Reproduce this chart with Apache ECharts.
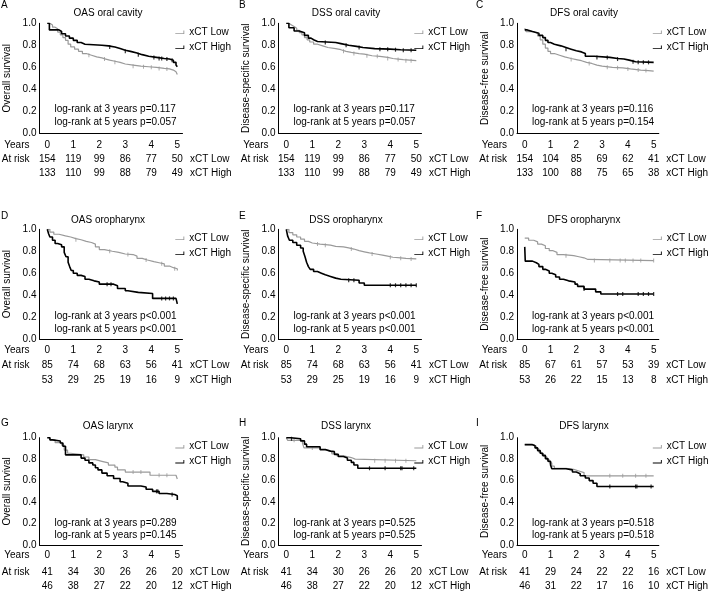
<!DOCTYPE html>
<html><head><meta charset="utf-8">
<script src="https://cdn.jsdelivr.net/npm/echarts@6/dist/echarts.min.js"></script>
<style>html,body{margin:0;padding:0;background:#fff}#c{width:709px;height:594px}</style>
</head><body><div id="c"></div>
<script>
const years = [0, 1, 2, 3, 4, 5];
const yTicks = [0, 0.2, 0.4, 0.6, 0.8, 1.0];
const panelLetters = ['A','B','C','D','E','F','G','H','I'];
const panelTitles = ['OAS oral cavity','DSS oral cavity','DFS oral cavity','OAS oropharynx','DSS oropharynx','DFS oropharynx','OAS larynx','DSS larynx','DFS larynx'];
const yNames = ['Overall survival','Disease-specific survival','Disease-free survival'];
const seriesNames = ['xCT Low','xCT High'];

// ---- A: OAS oral cavity
const A_low = [[0,1],[0.1,0.985],[0.2,0.965],[0.3,0.95],[0.4,0.92],[0.5,0.895],[0.6,0.87],[0.7,0.845],[0.8,0.81],[0.9,0.785],[1.05,0.765],[1.2,0.745],[1.35,0.725],[1.5,0.71],[1.7,0.695],[1.9,0.685],[2.1,0.675],[2.25,0.665],[2.4,0.655],[2.6,0.645],[2.8,0.63],[3.0,0.62],[3.3,0.61],[3.6,0.605],[3.9,0.6],[4.2,0.59],[4.5,0.585],[4.7,0.575],[4.85,0.56],[4.95,0.545],[5,0.535]];
const A_high = [[0,1],[0.08,0.94],[0.45,0.925],[0.55,0.905],[0.7,0.885],[0.85,0.865],[1.0,0.845],[1.15,0.825],[1.3,0.81],[1.45,0.8],[2.1,0.795],[2.35,0.785],[2.6,0.77],[2.8,0.755],[3.0,0.745],[3.2,0.73],[3.45,0.715],[3.65,0.7],[3.9,0.69],[4.2,0.68],[4.5,0.675],[4.7,0.665],[4.85,0.645],[4.95,0.62],[5,0.605]];
const A_censLow = [1.6,2.2,2.6,3.3,3.7,4.0,4.3,4.6];
const A_censHigh = [2.4,3.0,3.5,4.1,4.3,4.4,4.6,4.8];
const A_riskLow = [154,119,99,86,77,50];
const A_riskHigh = [133,110,99,88,79,49];
const A_p = ['p=0.117','p=0.057'];

// ---- B: DSS oral cavity
const B_low = [[0,1],[0.1,0.985],[0.2,0.97],[0.3,0.955],[0.4,0.935],[0.5,0.915],[0.6,0.895],[0.7,0.87],[0.8,0.85],[0.9,0.83],[1.05,0.81],[1.2,0.795],[1.4,0.78],[1.6,0.77],[1.9,0.76],[2.1,0.745],[2.3,0.735],[2.5,0.725],[2.8,0.72],[3.0,0.705],[3.3,0.7],[3.6,0.69],[3.9,0.68],[4.1,0.675],[4.3,0.67],[4.5,0.66],[5,0.66]];
const B_high = [[0,1],[0.1,0.96],[0.3,0.93],[0.5,0.915],[0.7,0.89],[0.85,0.865],[0.95,0.85],[1.05,0.835],[1.2,0.825],[1.9,0.815],[2.1,0.8],[2.4,0.79],[2.7,0.78],[2.95,0.77],[3.4,0.765],[4.0,0.76],[4.4,0.755],[5,0.755]];
const B_censLow = [2.2,2.6,3.1,3.5,3.9,4.3,4.6,4.8];
const B_censHigh = [1.5,2.3,2.8,3.6,3.9,4.2,4.5,4.8];
const B_riskLow = [154,119,99,86,77,50];
const B_riskHigh = [133,110,99,88,79,49];
const B_p = ['p=0.117','p=0.057'];

// ---- C: DFS oral cavity
const C_low = [[0,0.955],[0.05,0.925],[0.3,0.91],[0.5,0.885],[0.6,0.85],[0.7,0.81],[0.8,0.775],[0.9,0.745],[1.0,0.725],[1.15,0.71],[1.35,0.695],[1.55,0.68],[1.8,0.67],[2.0,0.66],[2.2,0.645],[2.4,0.635],[2.6,0.62],[2.8,0.61],[3.0,0.6],[3.4,0.595],[3.8,0.585],[4.1,0.575],[4.5,0.57],[4.8,0.565],[5,0.565]];
const C_high = [[0,0.94],[0.1,0.925],[0.3,0.91],[0.55,0.89],[0.7,0.87],[0.8,0.845],[0.9,0.825],[1.0,0.81],[1.15,0.795],[1.4,0.78],[1.6,0.765],[1.8,0.75],[2.0,0.74],[2.2,0.725],[2.35,0.7],[2.7,0.69],[3.3,0.68],[3.6,0.675],[3.85,0.665],[4.05,0.65],[4.3,0.645],[5,0.64]];
const C_censLow = [1.8,2.5,3.2,3.6,4.0,4.4,4.7];
const C_censHigh = [1.6,2.8,3.2,3.6,4.2,4.4,4.6,4.8];
const C_riskLow = [154,104,85,69,62,41];
const C_riskHigh = [133,100,88,75,65,38];
const C_p = ['p=0.116','p=0.154'];

// ---- D: OAS oropharynx
const D_low = [[0,1],[0.1,0.975],[0.25,0.955],[0.45,0.94],[0.7,0.93],[0.9,0.915],[1.1,0.905],[1.3,0.89],[1.5,0.88],[1.7,0.865],[1.85,0.84],[2.0,0.815],[2.2,0.8],[2.5,0.79],[2.75,0.775],[3.0,0.77],[3.3,0.755],[3.45,0.735],[3.65,0.72],[3.85,0.705],[4.1,0.695],[4.3,0.685],[4.5,0.665],[4.7,0.65],[4.85,0.64],[5,0.625]];
const D_high = [[0,1],[0.05,0.96],[0.1,0.93],[0.2,0.9],[0.3,0.87],[0.4,0.86],[0.55,0.84],[0.65,0.79],[0.72,0.75],[0.8,0.7],[0.86,0.66],[0.92,0.625],[1.0,0.6],[1.15,0.58],[1.3,0.57],[1.45,0.545],[1.6,0.53],[1.8,0.52],[2.0,0.5],[2.55,0.485],[2.7,0.46],[3.0,0.44],[3.1,0.425],[3.5,0.415],[4.05,0.37],[4.95,0.365],[5,0.32]];
const D_censLow = [1.1,2.4,3.1,3.8,4.4,4.9];
const D_censHigh = [2.3,2.45,4.4,4.55,4.7,4.85];
const D_riskLow = [85,74,68,63,56,41];
const D_riskHigh = [53,29,25,19,16,9];
const D_p = ['p<0.001','p<0.001'];

// ---- E: DSS oropharynx
const E_low = [[0,1],[0.1,0.97],[0.25,0.95],[0.4,0.93],[0.55,0.91],[0.7,0.89],[0.85,0.875],[1.0,0.865],[1.3,0.855],[1.7,0.845],[1.9,0.84],[2.2,0.83],[2.4,0.82],[2.6,0.805],[2.8,0.795],[3.0,0.785],[3.2,0.775],[3.45,0.765],[3.7,0.755],[3.9,0.745],[4.1,0.74],[4.4,0.735],[4.6,0.73],[5,0.73]];
const E_high = [[0,1],[0.05,0.94],[0.12,0.9],[0.25,0.88],[0.4,0.855],[0.55,0.83],[0.65,0.8],[0.72,0.75],[0.78,0.7],[0.85,0.66],[0.92,0.635],[1.05,0.615],[1.2,0.6],[1.35,0.585],[1.5,0.57],[1.7,0.555],[1.9,0.545],[2.1,0.535],[2.8,0.51],[3.0,0.49],[5,0.49]];
const E_censLow = [1.2,1.5,2.5,3.3,4.0,4.4,4.8];
const E_censHigh = [2.4,2.6,4.0,4.2,4.4,4.6,4.8,5.0];
const E_riskLow = [85,74,68,63,56,41];
const E_riskHigh = [53,29,25,19,16,9];
const E_p = ['p<0.001','p<0.001'];

// ---- F: DFS oropharynx
const F_low = [[0,0.92],[0.15,0.9],[0.35,0.885],[0.5,0.865],[0.65,0.85],[0.8,0.825],[0.95,0.805],[1.1,0.79],[1.25,0.77],[1.5,0.76],[1.9,0.75],[2.1,0.74],[2.3,0.725],[2.45,0.715],[5,0.715]];
const F_high = [[0,0.84],[0.02,0.71],[0.3,0.695],[0.45,0.68],[0.55,0.66],[0.7,0.635],[0.8,0.62],[0.95,0.6],[1.05,0.585],[1.2,0.565],[1.35,0.545],[1.5,0.53],[1.7,0.52],[1.95,0.5],[2.05,0.48],[2.3,0.455],[2.75,0.43],[2.95,0.41],[5,0.41]];
const F_censLow = [1.6,2.7,3.3,3.7,3.9,4.2,4.5,5.0];
const F_censHigh = [2.3,3.6,3.8,4.4,4.6,4.8,5.0];
const F_riskLow = [85,67,61,57,53,39];
const F_riskHigh = [53,26,22,15,13,8];
const F_p = ['p<0.001','p<0.001'];

// ---- G: OAS larynx
const G_low = [[0,1],[0.1,0.98],[0.3,0.955],[0.55,0.93],[0.65,0.885],[0.78,0.855],[0.9,0.84],[1.4,0.82],[1.6,0.795],[1.85,0.78],[2.1,0.765],[2.35,0.745],[2.6,0.725],[2.7,0.7],[3.0,0.68],[3.95,0.65],[4.95,0.635],[5,0.615]];
const G_high = [[0,1],[0.1,0.98],[0.2,0.97],[0.5,0.95],[0.6,0.92],[0.7,0.84],[1.3,0.81],[1.45,0.79],[1.6,0.765],[1.75,0.745],[1.85,0.72],[1.95,0.7],[2.1,0.67],[2.3,0.645],[2.55,0.62],[2.8,0.59],[2.9,0.575],[3.1,0.55],[3.6,0.54],[3.8,0.52],[4.05,0.5],[4.3,0.48],[4.6,0.47],[4.9,0.46],[5,0.42]];
const G_censLow = [3.3,3.6,4.3,4.6];
const G_censHigh = [4.2,4.25,4.8];
const G_riskLow = [41,34,30,26,26,20];
const G_riskHigh = [46,38,27,22,20,12];
const G_p = ['p=0.289','p=0.145'];

// ---- H: DSS larynx
const H_low = [[0,1],[0.05,0.976],[0.62,0.95],[0.68,0.905],[1.3,0.885],[1.5,0.87],[1.75,0.85],[1.95,0.83],[2.2,0.815],[2.5,0.8],[2.65,0.785],[5,0.785]];
const H_high = [[0,1],[0.15,0.99],[0.55,0.97],[0.7,0.94],[0.78,0.915],[1.3,0.89],[1.5,0.875],[1.7,0.87],[1.85,0.845],[2.0,0.825],[2.2,0.81],[2.35,0.79],[2.5,0.77],[2.6,0.745],[2.75,0.715],[5,0.715]];
const H_censLow = [0.3,1.0,3.4,3.8,4.2,4.6];
const H_censHigh = [0.2,3.2,3.8,4.4,4.45,4.9];
const H_riskLow = [41,34,30,26,26,20];
const H_riskHigh = [46,38,27,22,20,12];
const H_p = ['p=0.525','p=0.525'];

// ---- I: DFS larynx
const I_low = [[0,0.935],[0.35,0.92],[0.45,0.895],[0.55,0.865],[0.65,0.845],[0.72,0.825],[0.85,0.795],[0.95,0.765],[1.05,0.735],[1.15,0.715],[1.6,0.705],[1.9,0.69],[2.1,0.675],[2.3,0.645],[5,0.64]];
const I_high = [[0,0.935],[0.3,0.925],[0.4,0.905],[0.5,0.88],[0.6,0.855],[0.7,0.835],[0.8,0.805],[0.9,0.78],[1.0,0.745],[1.05,0.71],[1.6,0.7],[1.85,0.68],[2.0,0.665],[2.15,0.645],[2.35,0.625],[2.5,0.6],[2.65,0.575],[2.8,0.545],[5,0.545]];
const I_censLow = [3.3,3.8,4.3,4.7];
const I_censHigh = [3.3,4.3,4.35,4.9];
const I_riskLow = [41,29,24,22,22,16];
const I_riskHigh = [46,31,22,17,16,10];
const I_p = ['p=0.518','p=0.518'];

const panels = [
  {low:A_low, high:A_high, cl:A_censLow, ch:A_censHigh, rl:A_riskLow, rh:A_riskHigh, p:A_p},
  {low:B_low, high:B_high, cl:B_censLow, ch:B_censHigh, rl:B_riskLow, rh:B_riskHigh, p:B_p},
  {low:C_low, high:C_high, cl:C_censLow, ch:C_censHigh, rl:C_riskLow, rh:C_riskHigh, p:C_p},
  {low:D_low, high:D_high, cl:D_censLow, ch:D_censHigh, rl:D_riskLow, rh:D_riskHigh, p:D_p},
  {low:E_low, high:E_high, cl:E_censLow, ch:E_censHigh, rl:E_riskLow, rh:E_riskHigh, p:E_p},
  {low:F_low, high:F_high, cl:F_censLow, ch:F_censHigh, rl:F_riskLow, rh:F_riskHigh, p:F_p},
  {low:G_low, high:G_high, cl:G_censLow, ch:G_censHigh, rl:G_riskLow, rh:G_riskHigh, p:G_p},
  {low:H_low, high:H_high, cl:H_censLow, ch:H_censHigh, rl:H_riskLow, rh:H_riskHigh, p:H_p},
  {low:I_low, high:I_high, cl:I_censLow, ch:I_censHigh, rl:I_riskLow, rh:I_riskHigh, p:I_p}
];

// ---- layout (styles / positions)
const FONT = 'Liberation Sans, Arial, Helvetica, sans-serif';
const GRAY = '#9a9a9a', BLACK = '#000';
const colLeft = [39.5, 278.5, 517];
const colLetterX = [1, 239, 476];
const colTitleX = [108, 346, 584];
const rows = [
  {top:23.3, h:110, off:[11.7,26,40], titleY:13.3, letterY:5, lr:[24,10.6]},
  {top:229.3, h:109.7, off:[11,26.7,41], titleY:220, letterY:216, lr:[22.3,9.7]},
  {top:437.7, h:107.3, off:[10.7,27.7,41.7], titleY:426, letterY:423, lr:[21.7,9.3]}
];
const XMIN = -0.3, XMAX = 5.2, PXY = 26;
const GW = (XMAX - XMIN) * PXY;

function survAt(curve, t) {
  let s = curve[0][1];
  for (const [ti, si] of curve) { if (ti <= t) s = si; }
  return s;
}

const grid = [], xAxis = [], yAxis = [], series = [], legend = [], graphic = [];
const ts = {fontSize:10, fontFamily:FONT, color:'#000'};
const legendIcon = 'path://M0,3 L9,3 L9,0 L10,0 L10,4 L0,4 Z';

panels.forEach((pn, i) => {
  const col = i % 3, row = Math.floor(i / 3), R = rows[row];
  const L = colLeft[col];
  grid.push({left:L, top:R.top, width:GW, height:R.h, containLabel:false});
  const base = {gridIndex:i, type:'value', min:XMIN, max:XMAX, splitLine:{show:false}, axisTick:{show:false}};
  const xi = xAxis.length;
  xAxis.push(Object.assign({}, base, {position:'bottom', axisLine:{show:true, onZero:false, lineStyle:{color:'#000', width:1}}, axisLabel:{show:false}}));
  xAxis.push(Object.assign({}, base, {position:'bottom', offset:R.off[0], axisLine:{show:false, onZero:false},
    axisLabel:Object.assign({show:true, customValues:years, margin:0, verticalAlign:'middle', formatter:v => String(v)}, ts),
    name:'Years', nameLocation:'start', nameGap:10, nameTextStyle:ts}));
  xAxis.push(Object.assign({}, base, {position:'bottom', offset:R.off[1], axisLine:{show:false, onZero:false},
    axisLabel:Object.assign({show:true, customValues:years, margin:0, verticalAlign:'middle', formatter:v => String(pn.rl[Math.round(v)])}, ts),
    name:'At risk', nameLocation:'start', nameGap:10, nameTextStyle:ts}));
  xAxis.push(Object.assign({}, base, {position:'bottom', offset:R.off[1], axisLine:{show:false, onZero:false}, axisLabel:{show:false},
    name:seriesNames[0], nameLocation:'end', nameGap:7.5, nameTextStyle:ts}));
  xAxis.push(Object.assign({}, base, {position:'bottom', offset:R.off[2], axisLine:{show:false, onZero:false},
    axisLabel:Object.assign({show:true, customValues:years, margin:0, verticalAlign:'middle', formatter:v => String(pn.rh[Math.round(v)])}, ts),
    name:seriesNames[1], nameLocation:'end', nameGap:7.5, nameTextStyle:ts}));
  yAxis.push({gridIndex:i, type:'value', min:0, max:1, interval:0.2, splitLine:{show:false}, axisTick:{show:false},
    axisLine:{show:true, onZero:false, lineStyle:{color:'#000', width:1}},
    axisLabel:Object.assign({margin:3, formatter:v => v.toFixed(1)}, ts),
    name:yNames[col], nameLocation:'middle', nameGap:27, nameTextStyle:ts});

  const common = {xAxisIndex:xi, yAxisIndex:i, silent:true, animation:false};
  series.push(Object.assign({type:'line', name:seriesNames[0], step:'end', showSymbol:false, data:pn.low,
    lineStyle:{color:GRAY, width:1.2}, itemStyle:{color:GRAY}, z:2}, common));
  series.push(Object.assign({type:'line', name:seriesNames[1], step:'end', showSymbol:false, data:pn.high,
    lineStyle:{color:BLACK, width:1.6}, itemStyle:{color:BLACK}, z:3}, common));
  series.push(Object.assign({type:'scatter', name:seriesNames[0], symbol:'rect', symbolSize:[1,4],
    data:pn.cl.map(t => [t, survAt(pn.low, t)]), itemStyle:{color:GRAY}, z:2}, common));
  series.push(Object.assign({type:'scatter', name:seriesNames[1], symbol:'rect', symbolSize:[1.2,4],
    data:pn.ch.map(t => [t, survAt(pn.high, t)]), itemStyle:{color:BLACK}, z:3}, common));

  const year5X = L + (5 - XMIN) * PXY;
  legend.push({orient:'vertical', left:year5X - 2, top:R.top + 4, itemWidth:9, itemHeight:4, itemGap:5,
    selectedMode:false, padding:0, textStyle:ts,
    data:[{name:seriesNames[0], icon:legendIcon}, {name:seriesNames[1], icon:legendIcon}]});

  const bottom = R.top + R.h;
  graphic.push({type:'text', left:colLetterX[col], top:R.letterY - 5, style:{text:panelLetters[i], fontSize:10, fontFamily:FONT, fill:'#000'}});
  graphic.push({type:'text', x:colTitleX[col], y:R.titleY, style:{text:panelTitles[i], fontSize:10, fontFamily:FONT, fill:'#000', align:'center', verticalAlign:'middle'}});
  graphic.push({type:'text', x:L + 15, y:bottom - R.lr[0], style:{text:'log-rank at 3 years ' + pn.p[0], fontSize:10, fontFamily:FONT, fill:'#000', align:'left', verticalAlign:'middle'}});
  graphic.push({type:'text', x:L + 15, y:bottom - R.lr[1], style:{text:'log-rank at 5 years ' + pn.p[1], fontSize:10, fontFamily:FONT, fill:'#000', align:'left', verticalAlign:'middle'}});
});

const chart = echarts.init(document.getElementById('c'), null, {renderer:'canvas'});
chart.setOption({backgroundColor:'#fff', animation:false, textStyle:{fontFamily:FONT}, grid, xAxis, yAxis, series, legend, graphic});
</script></body></html>
